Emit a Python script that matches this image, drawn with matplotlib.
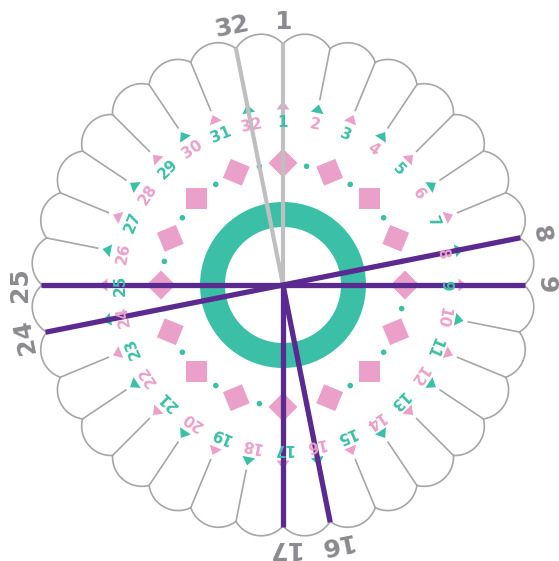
import numpy as np
import matplotlib
matplotlib.use("Agg")
import matplotlib.pyplot as plt
from matplotlib.patches import Polygon, Circle, Wedge

# disk layout (pixel units, y up)
W, H = 559, 561
CX, CY = 283, 276
N_SLOTS = 32

slots = list(range(1, N_SLOTS + 1))
# slot -> colour of the thread drawn from the centre to that slot
gray_slots = [32, 1]
purple_slots = [25, 9, 24, 8, 17, 16]
outer_labels = [32, 1, 25, 24, 9, 8, 17, 16]

PINK = "#eaa0c8"
TEAL = "#3bbfa6"
PURPLE = "#5b2a90"
LGRAY = "#bfbfc2"
OUTLINE = "#a6a6a8"
LABEL_GRAY = "#8b8b8f"

R_VALLEY = 241
R_INNER = 189
R_TRI = 179
R_NUM = 163
R_MARK = 122
SAG = 12


def ang(k):
    return np.deg2rad(90 - (k - 1) * 360 / N_SLOTS)


def pt(a, r):
    return np.array([CX + r * np.cos(a), CY + r * np.sin(a)])


fig = plt.figure(figsize=(W / 100, H / 100), dpi=100)
ax = fig.add_axes([0, 0, 1, 1])
ax.set_xlim(0, W)
ax.set_ylim(0, H)
ax.set_aspect("equal")
ax.axis("off")

# scalloped outline
for k in slots:
    a1, a2 = ang(k), ang(k % N_SLOTS + 1)
    A, B = pt(a1, R_VALLEY), pt(a2, R_VALLEY)
    M = (A + B) / 2
    am = (a1 + a2) / 2 if abs(a1 - a2) < np.pi else (a1 + a2) / 2 + np.pi
    n = np.array([np.cos(am), np.sin(am)])
    h = np.linalg.norm(B - A) / 2
    rho = (h ** 2 + SAG ** 2) / (2 * SAG)
    C = M + n * (SAG - rho)
    half = np.arctan2(h, rho - SAG)
    t = np.linspace(-half, half, 40) + am
    ax.plot(C[0] + rho * np.cos(t), C[1] + rho * np.sin(t), color=OUTLINE, lw=1.2,
            solid_capstyle="round")
    p0, p1 = pt(a1, R_INNER), pt(a1, R_VALLEY)
    ax.plot([p0[0], p1[0]], [p0[1], p1[1]], color=OUTLINE, lw=1.2)

# centre ring
ax.add_patch(Wedge((CX, CY), 83, 0, 360, width=25, color=TEAL, lw=0))

# pink squares and teal dots
for i in range(16):
    a = np.pi / 2 - i * np.pi / 8
    c = pt(a, R_MARK)
    d = 14.5
    verts = [c + d * np.array([np.cos(a + j * np.pi / 2), np.sin(a + j * np.pi / 2)]) for j in range(4)]
    ax.add_patch(Polygon(verts, closed=True, color=PINK, lw=0))
    ad = a - np.pi / 16
    ax.add_patch(Circle(pt(ad, R_MARK - 1), 2.8, color=TEAL, lw=0))

# slot triangles and numbers
for k in slots:
    a = ang(k)
    tri_col, num_col = (PINK, TEAL) if k % 2 else (TEAL, PINK)
    c = pt(a, R_TRI)
    rad = np.array([np.cos(a), np.sin(a)])
    tan = np.array([-np.sin(a), np.cos(a)])
    verts = [c + rad * 5, c - rad * 3.5 + tan * 6.5, c - rad * 3.5 - tan * 6.5]
    ax.add_patch(Polygon(verts, closed=True, color=tri_col, lw=0))
    p = pt(a, R_NUM)
    ax.text(p[0], p[1], str(k), color=num_col, fontsize=11, fontweight="bold",
            rotation=np.rad2deg(a) - 90, rotation_mode="anchor", ha="center", va="center")

# threads
for k in gray_slots:
    p = pt(ang(k), R_VALLEY + 1)
    ax.plot([CX, p[0]], [CY, p[1]], color=LGRAY, lw=3, solid_capstyle="butt")
for k in purple_slots:
    p = pt(ang(k), R_VALLEY + 1)
    ax.plot([CX, p[0]], [CY, p[1]], color=PURPLE, lw=3.8, solid_capstyle="butt")

# outer labels
for k in outer_labels:
    a = ang(k)
    p = pt(a, 263)
    ax.text(p[0], p[1], str(k), color=LABEL_GRAY, fontsize=18, fontweight="bold",
            rotation=np.rad2deg(a) - 90, rotation_mode="anchor", ha="center", va="center")

fig.savefig("out.png", dpi=100)
